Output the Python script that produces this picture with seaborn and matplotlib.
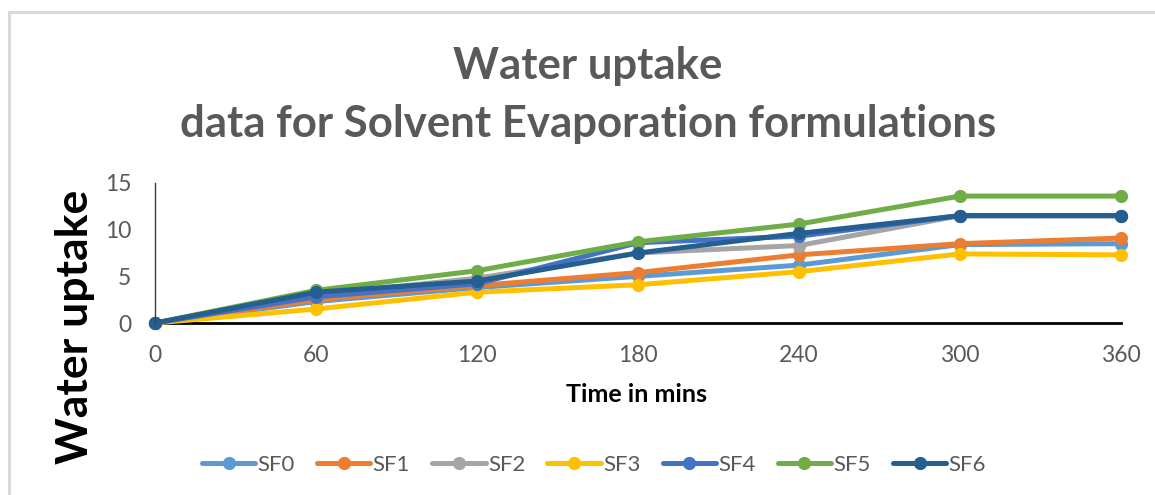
import matplotlib
matplotlib.use("Agg")
import matplotlib.pyplot as plt
import seaborn as sns
import pandas as pd
from matplotlib.patches import Rectangle

# Sampling times (minutes)
times = [0, 60, 120, 180, 240, 300, 360]

# Water uptake per formulation
sf0 = [0, 2.3, 3.8, 5.0, 6.2, 8.4, 8.5]
sf1 = [0, 2.5, 4.0, 5.4, 7.3, 8.5, 9.1]
sf2 = [0, 3.0, 4.8, 7.5, 8.3, 11.5, 11.5]
sf3 = [0, 1.5, 3.3, 4.1, 5.5, 7.4, 7.3]
sf4 = [0, 2.8, 4.2, 8.6, 9.3, 11.5, 11.5]
sf5 = [0, 3.5, 5.6, 8.7, 10.6, 13.6, 13.6]
sf6 = [0, 3.3, 4.5, 7.5, 9.6, 11.5, 11.5]

series_names = ["SF0", "SF1", "SF2", "SF3", "SF4", "SF5", "SF6"]
series_values = [sf0, sf1, sf2, sf3, sf4, sf5, sf6]
colors = ["#5B9BD5", "#ED7D31", "#A5A5A5", "#FFC000", "#4472C4", "#70AD47", "#255E91"]

x_ticks = [0, 60, 120, 180, 240, 300, 360]
y_ticks = [0, 5, 10, 15]

rows = []
for name, vals in zip(series_names, series_values):
    for t, v in zip(times, vals):
        rows.append({"Time": t, "Uptake": v, "Formulation": name})
df = pd.DataFrame(rows)

sns.set_theme(style="white")
plt.rcParams["font.family"] = ["Lato", "DejaVu Sans"]

fig = plt.figure(figsize=(11.55, 4.95), dpi=100)
ax = fig.add_axes([155 / 1155, 1 - 323 / 495, (1121 - 155) / 1155, (323 - 183) / 495])

# Light chart-area border
fig.patches.append(Rectangle((9 / 1155, -0.05), 1.2, 1 - 12 / 495 + 0.05,
                             transform=fig.transFigure, fill=False,
                             edgecolor="#D9D9D9", linewidth=2.2))

sns.lineplot(data=df, x="Time", y="Uptake", hue="Formulation",
             hue_order=series_names, palette=colors, marker="o",
             markersize=9.5, markeredgewidth=0, linewidth=3.6,
             ax=ax, legend=False, clip_on=False)
for line in ax.lines:
    line.set_clip_on(False)

ax.set_xlim(0, 360)
ax.set_ylim(0, 15)
ax.set_xticks(x_ticks)
ax.set_yticks(y_ticks)
ax.tick_params(axis="both", length=0, labelsize=16.5, labelcolor="#595959")
ax.tick_params(axis="x", pad=16)
ax.tick_params(axis="y", pad=17)

for s in ["top", "right"]:
    ax.spines[s].set_visible(False)
ax.spines["bottom"].set_color("black")
ax.spines["bottom"].set_linewidth(2.0)
ax.spines["left"].set_color("#404040")
ax.spines["left"].set_linewidth(1.0)
ax.spines["bottom"].set_zorder(0.5)

ax.set_xlabel("")
ax.set_ylabel("")

fig.text(637 / 1155, 1 - 394 / 495, "Time in mins", ha="center", va="center",
         fontsize=18, fontweight="bold", color="black")
fig.text(75 / 1155, 1 - 327 / 495, "Water uptake", ha="center", va="center",
         rotation=90, fontsize=32, fontweight="bold", color="black")

fig.text(588 / 1155, 1 - 66 / 495, "Water uptake", ha="center", va="center",
         fontsize=31.5, fontweight="bold", color="#595959")
fig.text(588 / 1155, 1 - 124 / 495, "data for Solvent Evaporation formulations",
         ha="center", va="center", fontsize=31.5, fontweight="bold", color="#595959")

handles = [plt.Line2D([], [], color=c, marker="o", markersize=9.5,
                      markeredgewidth=0, linewidth=3.6) for c in colors]
leg = fig.legend(handles, series_names, loc="center", ncol=7,
                 bbox_to_anchor=(594 / 1155, 1 - 465 / 495), frameon=False,
                 fontsize=16, handlelength=2.4, handletextpad=0.1,
                 columnspacing=1.0, labelcolor="#595959")

fig.savefig("out.png", dpi=100)
